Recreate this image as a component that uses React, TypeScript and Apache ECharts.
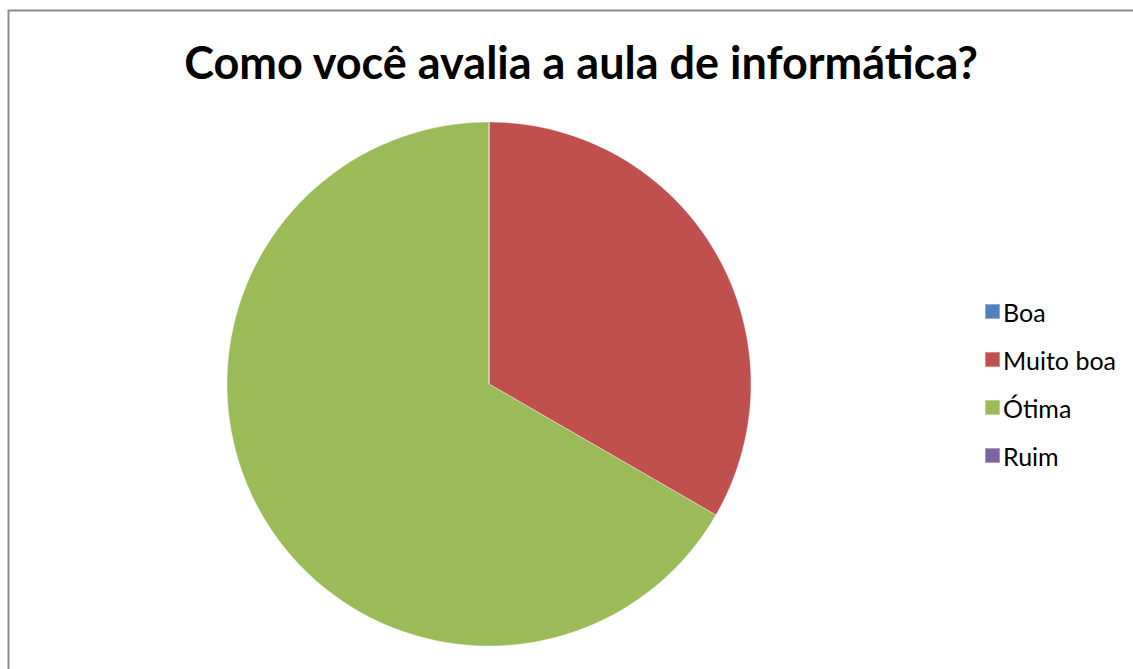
import React, { useEffect, useRef } from "react";
import * as echarts from "echarts";

const titleText = "Como você avalia a aula de informática?";
const categories = ["Boa", "Muito boa", "Ótima", "Ruim"];
const values = [0, 1, 2, 0];
const colors = ["#4F81BD", "#C0504D", "#9BBB59", "#8064A2"];

export default function App() {
  const ref = useRef<HTMLDivElement>(null);
  useEffect(() => {
    if (!ref.current) return;
    const chart = echarts.init(ref.current, undefined, { renderer: "svg" });
    chart.setOption({
      animation: false,
      backgroundColor: "#ffffff",
      title: {
        text: titleText,
        left: 576,
        textAlign: "center",
        top: 34,
        textStyle: {
          fontFamily: "Lato",
          fontWeight: "bold",
          fontSize: 45,
          color: "#000000",
        },
      },
      legend: {
        orient: "vertical",
        left: 979,
        top: 294,
        itemWidth: 15,
        itemHeight: 15,
        itemGap: 23,
        icon: "rect",
        textStyle: { fontFamily: "Lato", fontSize: 25, color: "#000000", padding: [0, 0, 0, -2] },
        data: categories,
      },
      graphic: [
        {
          type: "rect",
          shape: { x: 8.5, y: 10.5, width: 1300, height: 900 },
          style: { fill: "none", stroke: "#8c8c8c", lineWidth: 2 },
          silent: true,
        },
      ],
      series: [
        {
          type: "pie",
          center: [489, 384],
          radius: 262,
          startAngle: 90,
          clockwise: true,
          label: { show: false },
          labelLine: { show: false },
          itemStyle: { borderColor: "rgba(255,255,255,0.35)", borderWidth: 1 },
          emphasis: { disabled: true },
          data: categories.map((name, i) => ({
            name,
            value: values[i],
            itemStyle: { color: colors[i] },
          })),
        },
      ],
    });
    return () => chart.dispose();
  }, []);
  return (
    <div
      ref={ref}
      style={{ position: "fixed", left: 0, top: 0, width: 1133, height: 669 }}
    />
  );
}
